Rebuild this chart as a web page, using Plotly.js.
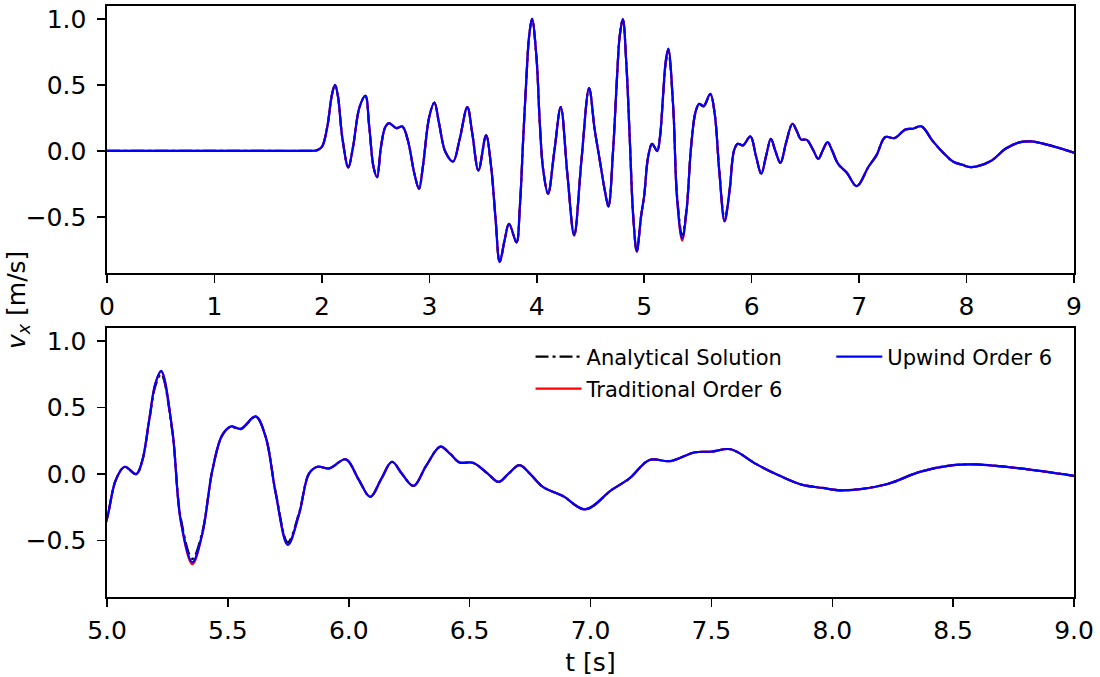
<!DOCTYPE html>
<html>
<head>
<meta charset="utf-8">
<script src="https://cdn.plot.ly/plotly-3.0.1.min.js"></script>
<style>
  html, body { margin: 0; padding: 0; background: #ffffff; }
  #chart { width: 1100px; height: 677px; }
</style>
</head>
<body>
<div id="chart"></div>
<script>
// time [s]
const t = [0, 1.0, 1.9, 1.95, 2.0, 2.05, 2.09, 2.122, 2.15, 2.19,
  2.246, 2.29, 2.35, 2.405, 2.44, 2.48, 2.513, 2.55, 2.59, 2.625,
  2.693, 2.749, 2.80, 2.86, 2.904, 2.94, 3.0, 3.047, 3.09, 3.15,
  3.221, 3.28, 3.354, 3.40, 3.457, 3.528, 3.575, 3.615, 3.655, 3.70,
  3.742, 3.811, 3.842, 3.873, 3.904, 3.929, 3.956, 3.997, 4.028, 4.059,
  4.105, 4.164, 4.223, 4.285, 4.348, 4.416, 4.487, 4.539, 4.586, 4.633,
  4.667, 4.71, 4.747, 4.772, 4.801, 4.835, 4.866, 4.897, 4.931, 4.97,
  5.0, 5.036, 5.073, 5.121, 5.146, 5.174, 5.20, 5.224, 5.27, 5.305, 5.353,
  5.394, 5.436, 5.477, 5.512, 5.553, 5.615, 5.656, 5.698, 5.748, 5.795,
  5.836, 5.871, 5.919, 5.988, 6.04, 6.089, 6.134, 6.179, 6.22, 6.268,
  6.32, 6.379, 6.42, 6.458, 6.513, 6.57, 6.620, 6.66, 6.706, 6.75,
  6.803, 6.886, 6.978, 7.086, 7.161, 7.244, 7.33, 7.431, 7.5, 7.580,
  7.686, 7.783, 7.873, 7.96, 8.045, 8.225, 8.362, 8.5, 8.597, 8.776,
  9.0];

// v_x [m/s] - Analytical Solution
const vAnalytical = [0, 0, 0, 0.003, 0.03, 0.18, 0.41, 0.5, 0.41, 0.1,
  -0.126, 0.03, 0.33, 0.417, 0.19, -0.12, -0.2, 0.03, 0.18, 0.21,
  0.172, 0.184, 0.08, -0.17, -0.288, -0.12, 0.26, 0.366, 0.21, -0.01,
  -0.081, 0.08, 0.331, 0.13, -0.149, 0.116, -0.12, -0.5, -0.843, -0.68,
  -0.553, -0.694, -0.43, 0.08, 0.56, 0.87, 1.0, 0.71, 0.21, -0.14,
  -0.326, 0.0, 0.331, -0.18, -0.641, -0.07, 0.475, 0.16, -0.07, -0.3,
  -0.422, 0.0, 0.56, 0.87, 0.997, 0.64, 0.08, -0.49, -0.763, -0.5,
  -0.338, -0.048, 0.053, -0.002, 0.10, 0.39, 0.66, 0.75, 0.32, -0.33, -0.64,
  -0.44, 0.03, 0.29, 0.352, 0.336, 0.428, 0.28, -0.14, -0.515, -0.29,
  0.003, 0.053, 0.041, 0.109, -0.04, -0.174, -0.04, 0.091, 0.0, -0.091,
  0.06, 0.205, 0.15, 0.086, 0.083, 0.01, -0.061, 0.0, 0.066, 0.0,
  -0.098, -0.167, -0.268, -0.123, -0.035, 0.104, 0.096, 0.162, 0.167, 0.185,
  0.073, -0.015, -0.081, -0.106, -0.124, -0.078, 0.015, 0.066, 0.071, 0.041,
  -0.015];

// v_x [m/s] - Traditional Order 6
const vTraditional = [0, 0, 0, 0.003, 0.03, 0.18, 0.41, 0.5, 0.41, 0.1,
  -0.126, 0.03, 0.33, 0.417, 0.19, -0.12, -0.2, 0.03, 0.18, 0.21,
  0.172, 0.184, 0.08, -0.17, -0.288, -0.12, 0.26, 0.366, 0.21, -0.01,
  -0.081, 0.08, 0.331, 0.13, -0.149, 0.116, -0.12, -0.5, -0.843, -0.68,
  -0.553, -0.694, -0.43, 0.08, 0.56, 0.87, 1.0, 0.71, 0.21, -0.14,
  -0.326, 0.0, 0.331, -0.18, -0.641, -0.07, 0.475, 0.16, -0.07, -0.3,
  -0.422, 0.0, 0.56, 0.87, 0.997, 0.64, 0.08, -0.49, -0.765, -0.5,
  -0.338, -0.048, 0.053, -0.002, 0.10, 0.40, 0.68, 0.77, 0.331, -0.355, -0.68,
  -0.455, 0.028, 0.293, 0.356, 0.339, 0.432, 0.28, -0.149, -0.535, -0.3,
  0.003, 0.053, 0.041, 0.109, -0.04, -0.174, -0.04, 0.091, 0.0, -0.091,
  0.06, 0.205, 0.15, 0.086, 0.083, 0.01, -0.061, 0.0, 0.066, 0.0,
  -0.098, -0.167, -0.268, -0.123, -0.035, 0.104, 0.096, 0.162, 0.167, 0.185,
  0.073, -0.015, -0.081, -0.106, -0.124, -0.078, 0.015, 0.066, 0.071, 0.041,
  -0.015];

// v_x [m/s] - Upwind Order 6
const vUpwind = [0, 0, 0, 0.003, 0.03, 0.18, 0.41, 0.5, 0.41, 0.1,
  -0.126, 0.03, 0.33, 0.417, 0.19, -0.12, -0.2, 0.03, 0.18, 0.21,
  0.172, 0.184, 0.08, -0.17, -0.288, -0.12, 0.26, 0.366, 0.21, -0.01,
  -0.081, 0.08, 0.331, 0.13, -0.149, 0.116, -0.12, -0.5, -0.843, -0.68,
  -0.553, -0.694, -0.43, 0.08, 0.56, 0.87, 1.0, 0.71, 0.21, -0.14,
  -0.326, 0.0, 0.331, -0.18, -0.641, -0.07, 0.475, 0.16, -0.07, -0.3,
  -0.422, 0.0, 0.56, 0.87, 0.997, 0.64, 0.08, -0.49, -0.763, -0.5,
  -0.338, -0.048, 0.053, -0.002, 0.10, 0.40, 0.68, 0.775, 0.331, -0.351, -0.665,
  -0.452, 0.028, 0.293, 0.356, 0.339, 0.432, 0.28, -0.149, -0.533, -0.3,
  0.003, 0.053, 0.041, 0.109, -0.04, -0.174, -0.04, 0.091, 0.0, -0.091,
  0.06, 0.205, 0.15, 0.086, 0.083, 0.01, -0.061, 0.0, 0.066, 0.0,
  -0.098, -0.167, -0.268, -0.123, -0.035, 0.104, 0.096, 0.162, 0.167, 0.185,
  0.073, -0.015, -0.081, -0.106, -0.124, -0.078, 0.015, 0.066, 0.071, 0.041,
  -0.015];

const seriesNames = ['Analytical Solution', 'Traditional Order 6', 'Upwind Order 6'];
const yTicks = [-0.5, 0.0, 0.5, 1.0];
const topXTicks = [0, 1, 2, 3, 4, 5, 6, 7, 8, 9];
const bottomXTicks = [5.0, 5.5, 6.0, 6.5, 7.0, 7.5, 8.0, 8.5, 9.0];

const FONT = 'DejaVu Sans, Liberation Sans, sans-serif';
const styles = [
  {color: '#000000', width: 2.2, dash: '13px,4px,3px,4px'},
  {color: '#ff0000', width: 2.2, dash: 'solid'},
  {color: '#0000ff', width: 2.2, dash: 'solid'}
];
const values = [vAnalytical, vTraditional, vUpwind];
const legendIds = ['legend', 'legend2', 'legend3'];

const traces = [];
for (let i = 0; i < 3; i++) {
  traces.push({
    x: t, y: values[i], type: 'scatter', mode: 'lines',
    name: seriesNames[i], showlegend: false,
    xaxis: 'x', yaxis: 'y',
    line: Object.assign({shape: 'spline', smoothing: 1}, styles[i])
  });
}
for (let i = 0; i < 3; i++) {
  traces.push({
    x: t, y: values[i], type: 'scatter', mode: 'lines',
    name: seriesNames[i], showlegend: true, legend: legendIds[i],
    xaxis: 'x2', yaxis: 'y2',
    line: Object.assign({shape: 'spline', smoothing: 1}, styles[i])
  });
}

const axisCommon = {
  showgrid: false, zeroline: false,
  showline: true, linecolor: '#000000', linewidth: 1.6, mirror: true,
  ticks: 'outside', ticklen: 8, tickwidth: 1.5, tickcolor: '#000000',
  tickfont: {family: FONT, size: 25, color: '#000000'}
};
const yRange = [-0.927, 1.097];

const legendCommon = {
  font: {family: FONT, size: 21, color: '#000000'},
  bgcolor: 'rgba(255,255,255,0)', borderwidth: 0,
  xanchor: 'left', yanchor: 'middle', itemwidth: 46,
  xref: 'paper', yref: 'paper'
};

const layout = {
  width: 1100, height: 677,
  paper_bgcolor: '#ffffff', plot_bgcolor: '#ffffff',
  margin: {l: 107, r: 26, t: 6, b: 80},
  font: {family: FONT, color: '#000000'},
  xaxis: Object.assign({}, axisCommon, {
    domain: [0, 1], range: [0, 9], tickvals: topXTicks, tickformat: 'd', anchor: 'y',
    ticklabelstandoff: 2
  }),
  yaxis: Object.assign({}, axisCommon, {
    domain: [0.548, 1], range: yRange, tickvals: yTicks, tickformat: '.1f', anchor: 'x',
    ticklabelstandoff: 6
  }),
  xaxis2: Object.assign({}, axisCommon, {
    domain: [0, 1], range: [5, 9], tickvals: bottomXTicks, tickformat: '.1f', anchor: 'y2',
    ticklabelstandoff: 2,
    title: {text: 't [s]', font: {family: FONT, size: 25, color: '#000000'}, standoff: 12}
  }),
  yaxis2: Object.assign({}, axisCommon, {
    domain: [0, 0.455], range: yRange, tickvals: yTicks, tickformat: '.1f', anchor: 'x2',
    ticklabelstandoff: 6
  }),
  legend: Object.assign({}, legendCommon, {x: 0.438, y: 0.406}),
  legend2: Object.assign({}, legendCommon, {x: 0.438, y: 0.352}),
  legend3: Object.assign({}, legendCommon, {x: 0.749, y: 0.406}),
  annotations: [{
    text: '<i>v<sub>x</sub></i> [m/s]', xref: 'paper', yref: 'paper',
    x: -0.092, y: 0.5025, xanchor: 'center', yanchor: 'middle',
    textangle: -90, showarrow: false,
    font: {family: FONT, size: 25, color: '#000000'}
  }]
};

Plotly.newPlot('chart', traces, layout, {staticPlot: true, displayModeBar: false});
</script>
</body>
</html>
